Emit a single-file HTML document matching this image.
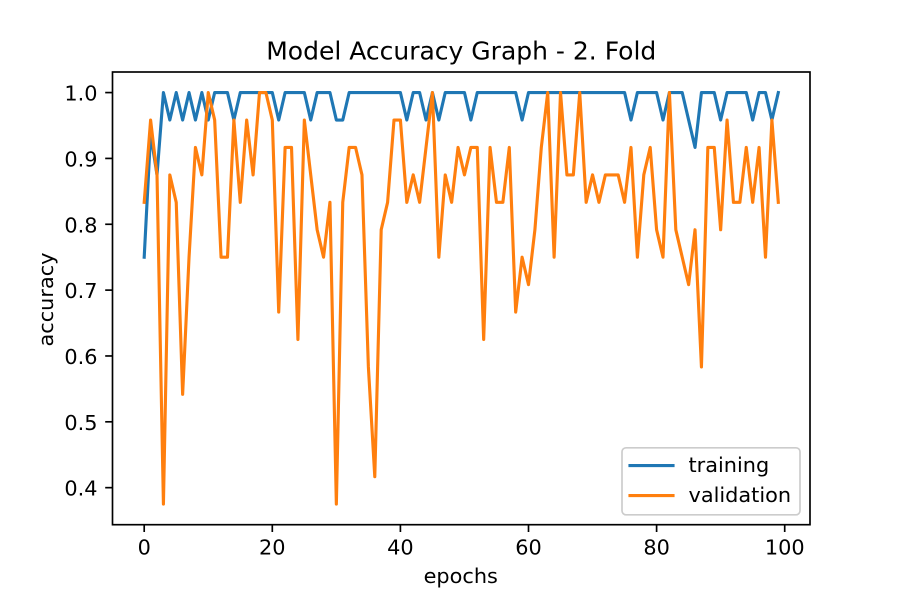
<!DOCTYPE html>
<html lang="en">
<head>
<meta charset="utf-8">
<title>Model Accuracy Graph - 2. Fold</title>
<style>
  html, body { margin: 0; padding: 0; background: #fff; }
  svg { display: block; }
  text { font-family: "DejaVu Sans", "Liberation Sans", sans-serif; fill: #000; }
</style>
</head>
<body>
<svg id="chart" xmlns="http://www.w3.org/2000/svg" width="900" height="600" viewBox="0 0 900 600">
  <rect x="0" y="0" width="900" height="600" fill="#fff"/>
  <g id="series"></g>
  <g id="ticks"></g>
  <rect x="112.5" y="72" width="697.5" height="452.7" fill="none" stroke="#000" stroke-width="1.67"/>
  <text x="461.25" y="59.3" font-size="25" text-anchor="middle">Model Accuracy Graph - 2. Fold</text>
  <text x="460.75" y="583" font-size="20.83" text-anchor="middle">epochs</text>
  <text x="0" y="0" font-size="20.83" text-anchor="middle" transform="translate(53 299.5) rotate(-90)">accuracy</text>
  <g>
    <rect x="622" y="447.8" width="178" height="67" rx="4" ry="4" fill="#fff" fill-opacity="0.8" stroke="#ccc" stroke-width="1.67"/>
    <line x1="630" y1="465.5" x2="673" y2="465.5" stroke="#1f77b4" stroke-width="3.125" stroke-linecap="square"/>
    <text x="688.5" y="471.8" font-size="20.83">training</text>
    <line x1="630" y1="495.5" x2="673" y2="495.5" stroke="#ff7f0e" stroke-width="3.125" stroke-linecap="square"/>
    <text x="688.5" y="501.8" font-size="20.83">validation</text>
  </g>
</svg>
<script>
const xTickLabels = [0, 20, 40, 60, 80, 100];
const yTickLabels = [0.4, 0.5, 0.6, 0.7, 0.8, 0.9, 1.0];
const training = [
  0.75, 0.9375, 0.875, 1, 0.9583, 1, 0.9583, 1, 0.9583, 1,
  0.9583, 1, 1, 1, 0.9583, 1, 1, 1, 1, 1,
  1, 0.9583, 1, 1, 1, 1, 0.9583, 1, 1, 1,
  0.9583, 0.9583, 1, 1, 1, 1, 1, 1, 1, 1,
  1, 0.9583, 1, 1, 0.9583, 1, 0.9583, 1, 1, 1,
  1, 0.9583, 1, 1, 1, 1, 1, 1, 1, 0.9583,
  1, 1, 1, 1, 1, 1, 1, 1, 1, 1,
  1, 1, 1, 1, 1, 1, 0.9583, 1, 1, 1,
  1, 0.9583, 1, 1, 1, 0.9583, 0.9167, 1, 1, 1,
  0.9583, 1, 1, 1, 1, 0.9583, 1, 1, 0.9583, 1
];
const validation = [
  0.8333, 0.9583, 0.875, 0.375, 0.875, 0.8333, 0.5417, 0.75, 0.9167, 0.875,
  1, 0.9583, 0.75, 0.75, 0.9583, 0.8333, 0.9583, 0.875, 1, 1,
  0.9583, 0.6667, 0.9167, 0.9167, 0.625, 0.9583, 0.875, 0.7917, 0.75, 0.8333,
  0.375, 0.8333, 0.9167, 0.9167, 0.875, 0.5833, 0.4167, 0.7917, 0.8333, 0.9583,
  0.9583, 0.8333, 0.875, 0.8333, 0.9167, 1, 0.75, 0.875, 0.8333, 0.9167,
  0.875, 0.9167, 0.9167, 0.625, 0.9167, 0.8333, 0.8333, 0.9167, 0.6667, 0.75,
  0.7083, 0.7917, 0.9167, 1, 0.75, 1, 0.875, 0.875, 1, 0.8333,
  0.875, 0.8333, 0.875, 0.875, 0.875, 0.8333, 0.9167, 0.75, 0.875, 0.9167,
  0.7917, 0.75, 1, 0.7917, 0.75, 0.7083, 0.7917, 0.5833, 0.9167, 0.9167,
  0.7917, 0.9583, 0.8333, 0.8333, 0.9167, 0.8333, 0.9167, 0.75, 0.9583, 0.8333
];

const SVG_NS = 'http://www.w3.org/2000/svg';
const plotLeft = 112.5, plotRight = 810, plotTop = 72, plotBottom = 524.7;
const xMin = -4.95, xMax = 103.95, yMin = 0.34375, yMax = 1.03125;

function xScale(v) {
  return plotLeft + (v - xMin) / (xMax - xMin) * (plotRight - plotLeft);
}
function yScale(v) {
  return plotBottom - (v - yMin) / (yMax - yMin) * (plotBottom - plotTop);
}
function svgEl(tag, attrs) {
  const el = document.createElementNS(SVG_NS, tag);
  for (const k in attrs) el.setAttribute(k, attrs[k]);
  return el;
}
function drawSeries(values, color, label) {
  const pts = values.map((v, i) => xScale(i).toFixed(2) + ',' + yScale(v).toFixed(2)).join(' ');
  const line = svgEl('polyline', {
    points: pts, fill: 'none', stroke: color, 'stroke-width': 3.125,
    'stroke-linejoin': 'round', 'stroke-linecap': 'square'
  });
  
  
  document.getElementById('series').appendChild(line);
}
drawSeries(training, '#1f77b4', 'training-line');
drawSeries(validation, '#ff7f0e', 'validation-line');

const tickGroup = document.getElementById('ticks');
xTickLabels.forEach(function (t) {
  const x = xScale(t);
  const tick = svgEl('line', { x1: x, x2: x, y1: plotBottom, y2: plotBottom + 7.3, stroke: '#000', 'stroke-width': 1.67 });
  
  
  tickGroup.appendChild(tick);
  const label = svgEl('text', { x: x, y: 554.5, 'font-size': 20.83, 'text-anchor': 'middle' });
  
  
  label.textContent = String(t);
  tickGroup.appendChild(label);
});
yTickLabels.forEach(function (t) {
  const y = yScale(t);
  const tick = svgEl('line', { x1: plotLeft, x2: plotLeft - 7.3, y1: y, y2: y, stroke: '#000', 'stroke-width': 1.67 });
  
  
  tickGroup.appendChild(tick);
  const label = svgEl('text', { x: plotLeft - 15, y: y + 8, 'font-size': 20.83, 'text-anchor': 'end' });
  
  
  label.textContent = t.toFixed(1);
  tickGroup.appendChild(label);
});
</script>
</body>
</html>
